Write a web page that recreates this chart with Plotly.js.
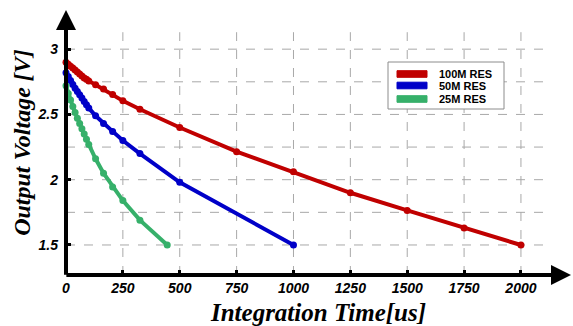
<!DOCTYPE html>
<html>
<head>
<meta charset="utf-8">
<script src="https://cdn.plot.ly/plotly-3.0.1.min.js"></script>
<style>html,body{margin:0;padding:0;background:#fff;}#chart{width:573px;height:326px;}</style>
</head>
<body>
<div id="chart"></div>
<script>
// Data
const seriesNames = ["100M RES", "50M RES", "25M RES"];
const t100 = [0, 10, 20, 30, 40, 50, 60, 70, 80, 90, 100, 130, 165, 205, 250, 325, 500, 750, 1000, 1250, 1500, 1750, 2000];
const v100 = [2.90, 2.885, 2.87, 2.855, 2.84, 2.825, 2.81, 2.795, 2.78, 2.77, 2.757, 2.728, 2.694, 2.653, 2.604, 2.54, 2.40, 2.215, 2.06, 1.90, 1.765, 1.63, 1.50];
const t50 = [0, 10, 20, 30, 40, 50, 60, 70, 80, 90, 100, 130, 165, 205, 250, 325, 500, 1000];
const v50 = [2.82, 2.79, 2.76, 2.73, 2.70, 2.675, 2.65, 2.625, 2.60, 2.575, 2.55, 2.49, 2.43, 2.37, 2.30, 2.20, 1.98, 1.50];
const t25 = [0, 10, 20, 30, 40, 50, 60, 70, 80, 90, 100, 130, 165, 205, 250, 325, 445];
const v25 = [2.72, 2.66, 2.61, 2.56, 2.515, 2.47, 2.43, 2.39, 2.35, 2.31, 2.27, 2.16, 2.05, 1.945, 1.84, 1.69, 1.50];
const xTicks = [0, 250, 500, 750, 1000, 1250, 1500, 1750, 2000];
const yTicks = [1.5, 2, 2.5, 3];
const yGrid = [1.5, 1.75, 2, 2.25, 2.5, 2.75, 3];
const xGrid = [250, 500, 750, 1000, 1250, 1500, 1750, 2000];

const colors = ["#c00000", "#0000c8", "#36b06a"];
const xs = [t100, t50, t25];
const ys = [v100, v50, v25];

const X0 = 0, X1 = 2220, Y0 = 1.27, Y1 = 3.30;
const gridXEnd = 2120, gridYEnd = 3.13;

// plot area in pixels (for the hand-made legend box)
const W = 573, H = 326, ML = 66, MR = 2, MT = 10, MB = 51;
const PW = W - ML - MR, PH = H - MT - MB;
const px = p => (p - ML) / PW;
const py = p => (H - MB - p) / PH;

const traces = [];
for (let i = 0; i < 3; i++) {
  traces.push({
    x: xs[i], y: ys[i], type: 'scatter', mode: 'lines+markers',
    name: seriesNames[i],
    line: {color: colors[i], width: 4},
    marker: {color: colors[i], size: 7},
    showlegend: false, hoverinfo: 'skip', cliponaxis: false
  });
}

const shapes = [];
yGrid.forEach(v => shapes.push({type: 'line', xref: 'x', yref: 'y', x0: X0, x1: gridXEnd, y0: v, y1: v,
  line: {color: '#a8a8a8', width: 1, dash: 'dash'}, layer: 'below'}));
xGrid.forEach(v => shapes.push({type: 'line', xref: 'x', yref: 'y', x0: v, x1: v, y0: Y0, y1: gridYEnd,
  line: {color: '#a8a8a8', width: 1, dash: 'dash'}, layer: 'below'}));

// legend box
shapes.push({type: 'rect', xref: 'paper', yref: 'paper', x0: px(388), x1: px(504), y0: py(62), y1: py(109),
  line: {color: '#8c8c8c', width: 1}, fillcolor: '#fff', layer: 'above'});
const rowY = [74, 85.5, 99];
const annotations = [];
for (let i = 0; i < 3; i++) {
  shapes.push({type: 'rect', xref: 'paper', yref: 'paper', x0: px(397), x1: px(427),
    y0: py(rowY[i] + 3.3), y1: py(rowY[i] - 3.3),
    line: {color: colors[i], width: 1}, fillcolor: colors[i], layer: 'above'});
  annotations.push({xref: 'paper', yref: 'paper', x: px(437), y: py(rowY[i]), xanchor: 'left', yanchor: 'middle',
    text: seriesNames[i], showarrow: false,
    font: {family: 'Liberation Sans, Arial, sans-serif', size: 11, color: '#000', weight: 'bold'}});
}

// axis arrows
annotations.push(
  {x: X1, y: Y0, ax: X0 - 5, ay: Y0, xref: 'x', yref: 'y', axref: 'x', ayref: 'y', text: '',
   showarrow: true, arrowhead: 2, arrowsize: 1, arrowwidth: 4, arrowcolor: '#000', standoff: 0},
  {x: X0, y: Y1, ax: X0, ay: Y0 - 0.01, xref: 'x', yref: 'y', axref: 'x', ayref: 'y', text: '',
   showarrow: true, arrowhead: 2, arrowsize: 1, arrowwidth: 4, arrowcolor: '#000', standoff: 0}
);

const tickFont = {family: 'Liberation Sans, Arial, sans-serif', size: 14, color: '#000', weight: 'bold', style: 'italic'};
const titleFontX = {family: 'Liberation Serif, Times New Roman, serif', size: 25, color: '#000', weight: 'bold', style: 'italic'};
const titleFontY = {family: 'Liberation Serif, Times New Roman, serif', size: 24, color: '#000', weight: 'bold', style: 'italic'};

const layout = {
  width: W, height: H,
  margin: {l: ML, r: MR, t: MT, b: MB},
  paper_bgcolor: '#fff', plot_bgcolor: '#fff',
  showlegend: false,
  xaxis: {
    range: [X0, X1], tickvals: xTicks, ticktext: xTicks.map(String),
    ticks: 'inside', ticklen: 5, tickwidth: 3, tickcolor: '#000',
    showgrid: false, zeroline: false, showline: false,
    tickfont: tickFont, ticklabelstandoff: 3,
    title: {text: 'Integration Time[us]', font: titleFontX, standoff: 10}
  },
  yaxis: {
    range: [Y0, Y1], tickvals: yTicks, ticktext: yTicks.map(String),
    ticks: 'inside', ticklen: 5, tickwidth: 3, tickcolor: '#000',
    showgrid: false, zeroline: false, showline: false,
    tickfont: tickFont, ticklabelstandoff: 7,
    title: {text: 'Output Voltage [V]', font: titleFontY, standoff: 0}
  },
  shapes: shapes,
  annotations: annotations
};

Plotly.newPlot('chart', traces, layout, {displayModeBar: false, staticPlot: true});
</script>
</body>
</html>
